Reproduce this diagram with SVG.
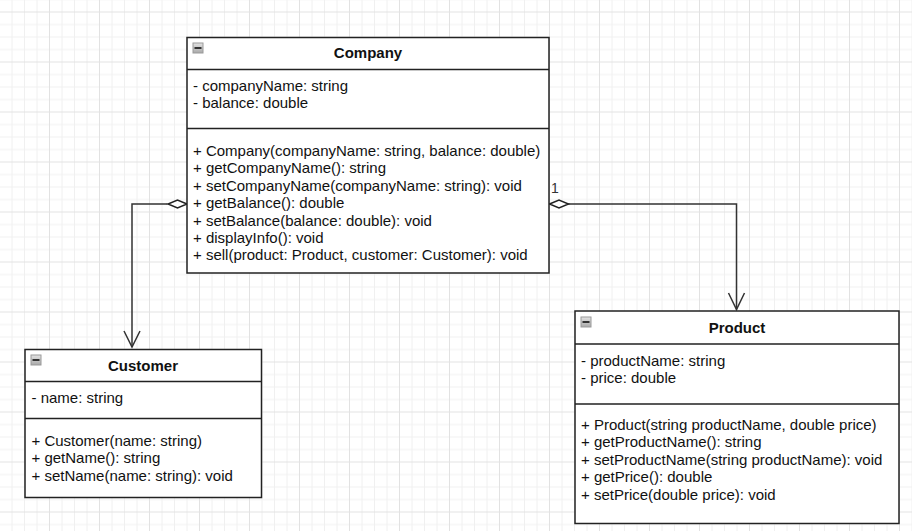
<svg xmlns="http://www.w3.org/2000/svg" width="912" height="531" viewBox="0 0 912 531">
<defs>
  <pattern id="grid" x="49" y="11.5" width="50" height="50" patternUnits="userSpaceOnUse">
    <path d="M13 0V50M25.5 0V50M38 0V50M0 13H50M0 25.5H50M0 38H50" stroke="#f0f0f0" stroke-width="1" fill="none"/>
    <path d="M0.5 0V50M0 0.5H50" stroke="#e2e2e2" stroke-width="1" fill="none"/>
  </pattern>
  <linearGradient id="ig" x1="0" y1="0" x2="0" y2="1">
    <stop offset="0" stop-color="#e4e4e4"/>
    <stop offset="1" stop-color="#a8a8a8"/>
  </linearGradient>
  <g id="icon">
    <rect x="0.5" y="0.5" width="10" height="10" fill="url(#ig)" stroke="#9a9a9a" stroke-width="1"/>
    <rect x="2" y="4.5" width="7" height="2" fill="#333"/>
  </g>
</defs>
<style>
  .box { fill: #ffffff; stroke: #222; stroke-width: 1.5; }
  .sep { stroke: #222; stroke-width: 1.5; fill: none; }
  .t { font-family: "Liberation Sans", Arial, sans-serif; font-size: 15px; fill: #111; }
  .title { font-family: "Liberation Sans", Arial, sans-serif; font-size: 15px; font-weight: bold; fill: #111; text-anchor: middle; }
  .edge { stroke: #333; stroke-width: 1.5; fill: none; }
  .dia { stroke: #222; stroke-width: 1.5; fill: #fff; }
  .lbl { font-family: "Liberation Sans", Arial, sans-serif; font-size: 14px; fill: #333; }
</style>
<rect width="912" height="531" fill="#ffffff"/>
<rect width="912" height="531" fill="url(#grid)"/>

<g id="connectors">
  <path class="edge" d="M167.5 204H132V347"/>
  <path class="edge" d="M124 331L132 347L140 331"/>
  <path class="dia" d="M187 204L177.5 200L168 204L177.5 208Z"/>
  <text class="lbl" x="188.5" y="198">1</text>
  <path class="edge" d="M568 204H736.5V309.5"/>
  <path class="edge" d="M728.5 293L736.5 309.5L744.5 293"/>
  <path class="dia" d="M549.5 204L559 200L568.5 204L559 208Z"/>
  <text class="lbl" x="551" y="193">1</text>
</g>

<g id="company">
  <rect class="box" x="187" y="37.5" width="362" height="235.5"/>
  <path class="sep" d="M187 69.5H549M187 128.5H549"/>
  <use href="#icon" x="192.5" y="42.5"/>
  <text class="title" x="368" y="58">Company</text>
  <text class="t" x="193" y="91">- companyName: string</text>
  <text class="t" x="193" y="108.4">- balance: double</text>
  <text class="t" x="193" y="156">+ Company(companyName: string, balance: double)</text>
  <text class="t" x="193" y="173.4">+ getCompanyName(): string</text>
  <text class="t" x="193" y="190.8">+ setCompanyName(companyName: string): void</text>
  <text class="t" x="193" y="208.2">+ getBalance(): double</text>
  <text class="t" x="193" y="225.6">+ setBalance(balance: double): void</text>
  <text class="t" x="193" y="243">+ displayInfo(): void</text>
  <text class="t" x="193" y="260.4">+ sell(product: Product, customer: Customer): void</text>
</g>

<g id="customer">
  <rect class="box" x="25" y="349.5" width="236.5" height="148"/>
  <path class="sep" d="M25 381.5H261.5M25 418.5H261.5"/>
  <use href="#icon" x="30.5" y="354.5"/>
  <text class="title" x="143" y="371">Customer</text>
  <text class="t" x="31.5" y="403">- name: string</text>
  <text class="t" x="31.5" y="446">+ Customer(name: string)</text>
  <text class="t" x="31.5" y="463.4">+ getName(): string</text>
  <text class="t" x="31.5" y="480.8">+ setName(name: string): void</text>
</g>

<g id="product">
  <rect class="box" x="575" y="311" width="324" height="212.5"/>
  <path class="sep" d="M575 344H899M575 404H899"/>
  <use href="#icon" x="580.5" y="316.5"/>
  <text class="title" x="737" y="332.5">Product</text>
  <text class="t" x="581" y="366">- productName: string</text>
  <text class="t" x="581" y="383.4">- price: double</text>
  <text class="t" x="581" y="430">+ Product(string productName, double price)</text>
  <text class="t" x="581" y="447.4">+ getProductName(): string</text>
  <text class="t" x="581" y="464.8">+ setProductName(string productName): void</text>
  <text class="t" x="581" y="482.2">+ getPrice(): double</text>
  <text class="t" x="581" y="499.6">+ setPrice(double price): void</text>
</g>
</svg>
